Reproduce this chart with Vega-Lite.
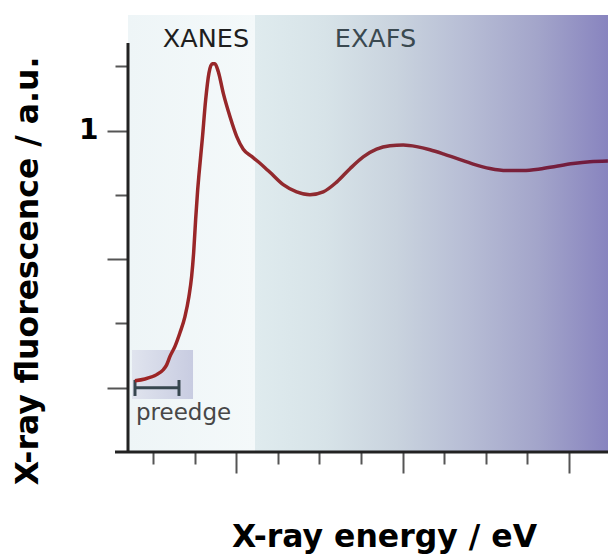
{
  "$schema": "https://vega.github.io/schema/vega-lite/v6.json",
  "width": 480,
  "height": 437,
  "autosize": {"type": "none"},
  "padding": {"left": 128, "top": 15, "right": 0, "bottom": 102},
  "background": "white",
  "config": {"view": {"stroke": null}, "font": "DejaVu Sans"},
  "datasets": {
    "regions": [
      {"region": "XANES", "x": 0.4, "x2": 3.453},
      {"region": "EXAFS", "x": 3.453, "x2": 11.94}
    ],
    "box": [{"x": 0.496, "x2": 1.963, "y": 0.147, "y2": -0.044}],
    "bracket": [
      {"x": 0.568, "x2": 1.626, "y": 0.0, "y2": 0.0},
      {"x": 0.568, "x2": 0.568, "y": 0.03, "y2": -0.032},
      {"x": 1.626, "x2": 1.626, "y": 0.03, "y2": -0.032}
    ],
    "axislines": [
      {"x": 0.4, "x2": 0.4, "y": -0.25, "y2": 1.341},
      {"x": 0.0875, "x2": 11.94, "y": -0.25, "y2": -0.25}
    ],
    "curve": [
      {"energy": 0.567, "fluor": 0.027},
      {"energy": 0.808, "fluor": 0.034},
      {"energy": 1.089, "fluor": 0.051},
      {"energy": 1.248, "fluor": 0.07},
      {"energy": 1.329, "fluor": 0.089},
      {"energy": 1.409, "fluor": 0.122},
      {"energy": 1.529, "fluor": 0.161},
      {"energy": 1.649, "fluor": 0.214},
      {"energy": 1.769, "fluor": 0.277},
      {"energy": 1.865, "fluor": 0.355},
      {"energy": 1.93, "fluor": 0.433},
      {"energy": 1.978, "fluor": 0.525},
      {"energy": 2.026, "fluor": 0.654},
      {"energy": 2.075, "fluor": 0.77},
      {"energy": 2.106, "fluor": 0.829},
      {"energy": 2.185, "fluor": 0.965},
      {"energy": 2.267, "fluor": 1.12},
      {"energy": 2.346, "fluor": 1.224},
      {"energy": 2.425, "fluor": 1.26},
      {"energy": 2.49, "fluor": 1.26},
      {"energy": 2.57, "fluor": 1.23},
      {"energy": 2.69, "fluor": 1.146},
      {"energy": 2.851, "fluor": 1.055},
      {"energy": 3.012, "fluor": 0.978},
      {"energy": 3.171, "fluor": 0.928},
      {"energy": 3.373, "fluor": 0.9},
      {"energy": 3.531, "fluor": 0.879},
      {"energy": 3.692, "fluor": 0.856},
      {"energy": 3.813, "fluor": 0.838},
      {"energy": 4.132, "fluor": 0.79},
      {"energy": 4.454, "fluor": 0.762},
      {"energy": 4.774, "fluor": 0.751},
      {"energy": 5.094, "fluor": 0.762},
      {"energy": 5.416, "fluor": 0.8},
      {"energy": 5.736, "fluor": 0.852},
      {"energy": 6.055, "fluor": 0.898},
      {"energy": 6.377, "fluor": 0.928},
      {"energy": 6.697, "fluor": 0.941},
      {"energy": 7.017, "fluor": 0.944},
      {"energy": 7.339, "fluor": 0.938},
      {"energy": 7.659, "fluor": 0.926},
      {"energy": 7.978, "fluor": 0.91},
      {"energy": 8.3, "fluor": 0.892},
      {"energy": 8.7, "fluor": 0.87},
      {"energy": 9.101, "fluor": 0.853},
      {"energy": 9.502, "fluor": 0.845},
      {"energy": 9.901, "fluor": 0.845},
      {"energy": 10.303, "fluor": 0.851},
      {"energy": 10.704, "fluor": 0.862},
      {"energy": 11.103, "fluor": 0.872},
      {"energy": 11.505, "fluor": 0.879},
      {"energy": 11.938, "fluor": 0.882}
    ],
    "labels": [
      {"label": "XANES", "x": 2.275, "y": 1.3255},
      {"label": "EXAFS", "x": 6.35, "y": 1.3255}
    ],
    "preedge": [{"label": "preedge", "x": 0.592, "y": -0.1255}]
  },
  "resolve": {"axis": {"x": "independent", "y": "independent"}},
  "layer": [
    {
      "data": {"name": "regions"},
      "transform": [{"filter": "datum.region === 'XANES'"}],
      "mark": {
        "type": "rect",
        "color": {"gradient": "linear", "x1": 0, "y1": 0, "x2": 1, "y2": 0,
          "stops": [{"offset": 0, "color": "#eef5f7"}, {"offset": 1, "color": "#f4f9fa"}]}
      },
      "encoding": {
        "x": {"field": "x", "type": "quantitative",
          "scale": {"domain": [0.4, 11.94], "nice": false, "zero": false},
          "axis": {"orient": "bottom", "values": [1, 2, 4, 5, 6, 8, 9, 10], "tickSize": 12,
            "tickColor": "#555555", "tickWidth": 2, "labels": false, "domain": false,
            "grid": false, "title": null}},
        "x2": {"field": "x2"}
      }
    },
    {
      "data": {"name": "regions"},
      "transform": [{"filter": "datum.region === 'EXAFS'"}],
      "mark": {
        "type": "rect",
        "color": {"gradient": "linear", "x1": 0, "y1": 0, "x2": 1, "y2": 0,
          "stops": [
            {"offset": 0, "color": "#dfebee"},
            {"offset": 0.2, "color": "#d7e3e8"},
            {"offset": 0.4, "color": "#c9d3de"},
            {"offset": 0.6, "color": "#b7bdd5"},
            {"offset": 0.8, "color": "#a3a5ca"},
            {"offset": 1, "color": "#8884bf"}
          ]}
      },
      "encoding": {
        "x": {"field": "x", "type": "quantitative",
          "scale": {"domain": [0.4, 11.94], "nice": false, "zero": false},
          "axis": {"orient": "bottom", "values": [3, 7, 11], "tickSize": 21,
            "tickColor": "#555555", "tickWidth": 2, "labels": false, "domain": false,
            "grid": false, "title": "X-ray energy / eV", "titleFont": "DejaVu Sans",
            "titleFontSize": 31.5, "titleFontWeight": "bold", "titleColor": "#000000",
            "titleX": 256, "titleY": 94, "titleAlign": "center", "titleAnchor": null,
            "titleBaseline": "alphabetic"}},
        "x2": {"field": "x2"}
      }
    },
    {
      "data": {"name": "box"},
      "mark": {
        "type": "rect",
        "color": {"gradient": "linear", "x1": 0, "y1": 0, "x2": 1, "y2": 0,
          "stops": [{"offset": 0, "color": "#e0e4ee"}, {"offset": 1, "color": "#c8cce1"}]}
      },
      "encoding": {
        "x": {"field": "x", "type": "quantitative",
          "scale": {"domain": [0.4, 11.94], "nice": false, "zero": false}, "axis": null},
        "x2": {"field": "x2"},
        "y": {"field": "y", "type": "quantitative",
          "scale": {"domain": [-0.25, 1.45], "nice": false, "zero": false},
          "axis": {"orient": "left", "values": [0.25, 0.75, 1.25], "tickSize": 13,
            "tickColor": "#555555", "tickWidth": 2, "labels": false, "domain": false,
            "grid": false, "title": null}},
        "y2": {"field": "y2"}
      }
    },
    {
      "data": {"name": "bracket"},
      "mark": {"type": "rule", "color": "#37474f", "strokeWidth": 3},
      "encoding": {
        "x": {"field": "x", "type": "quantitative",
          "scale": {"domain": [0.4, 11.94], "nice": false, "zero": false}, "axis": null},
        "x2": {"field": "x2"},
        "y": {"field": "y", "type": "quantitative",
          "scale": {"domain": [-0.25, 1.45], "nice": false, "zero": false},
          "axis": {"orient": "left", "values": [0, 0.5, 1], "tickSize": 21,
            "tickColor": "#555555", "tickWidth": 2, "domain": false, "grid": false,
            "labelExpr": "datum.value == 1 ? '1' : ''", "labelFont": "DejaVu Sans",
            "labelFontSize": 28, "labelFontWeight": "bold", "labelColor": "#000000",
            "labelPadding": 9, "labelBaseline": "middle",
            "title": "X-ray fluorescence / a.u.", "titleFont": "DejaVu Sans",
            "titleFontSize": 31.5, "titleFontWeight": "bold", "titleColor": "#000000",
            "titleAngle": 270, "titleX": -91, "titleY": 255.5, "titleAlign": "center",
            "titleAnchor": null, "titleBaseline": "alphabetic"}},
        "y2": {"field": "y2"}
      }
    },
    {
      "data": {"name": "curve"},
      "mark": {
        "type": "line", "interpolate": "monotone", "strokeWidth": 3.5,
        "color": {"gradient": "linear", "x1": 0, "y1": 0, "x2": 1, "y2": 0,
          "stops": [
            {"offset": 0, "color": "#9e2424"},
            {"offset": 0.45, "color": "#8d2c32"},
            {"offset": 1, "color": "#6e1a40"}
          ]}
      },
      "encoding": {
        "x": {"field": "energy", "type": "quantitative",
          "scale": {"domain": [0.4, 11.94], "nice": false, "zero": false}, "axis": null},
        "y": {"field": "fluor", "type": "quantitative",
          "scale": {"domain": [-0.25, 1.45], "nice": false, "zero": false}, "axis": null}
      }
    },
    {
      "data": {"name": "axislines"},
      "mark": {"type": "rule", "color": "#222222", "strokeWidth": 3},
      "encoding": {
        "x": {"field": "x", "type": "quantitative",
          "scale": {"domain": [0.4, 11.94], "nice": false, "zero": false}, "axis": null},
        "x2": {"field": "x2"},
        "y": {"field": "y", "type": "quantitative",
          "scale": {"domain": [-0.25, 1.45], "nice": false, "zero": false}, "axis": null},
        "y2": {"field": "y2"}
      }
    },
    {
      "data": {"name": "labels"},
      "mark": {"type": "text", "font": "DejaVu Sans", "fontSize": 25.5, "align": "center", "baseline": "alphabetic"},
      "encoding": {
        "x": {"field": "x", "type": "quantitative",
          "scale": {"domain": [0.4, 11.94], "nice": false, "zero": false}, "axis": null},
        "y": {"field": "y", "type": "quantitative",
          "scale": {"domain": [-0.25, 1.45], "nice": false, "zero": false}, "axis": null},
        "text": {"field": "label"},
        "color": {"field": "label", "type": "nominal",
          "scale": {"domain": ["XANES", "EXAFS"], "range": ["#1e1e1e", "#3a4950"]}, "legend": null}
      }
    },
    {
      "data": {"name": "preedge"},
      "mark": {"type": "text", "font": "DejaVu Sans", "fontSize": 23, "align": "left", "baseline": "alphabetic", "color": "#474747"},
      "encoding": {
        "x": {"field": "x", "type": "quantitative",
          "scale": {"domain": [0.4, 11.94], "nice": false, "zero": false}, "axis": null},
        "y": {"field": "y", "type": "quantitative",
          "scale": {"domain": [-0.25, 1.45], "nice": false, "zero": false}, "axis": null},
        "text": {"field": "label"}
      }
    }
  ]
}
